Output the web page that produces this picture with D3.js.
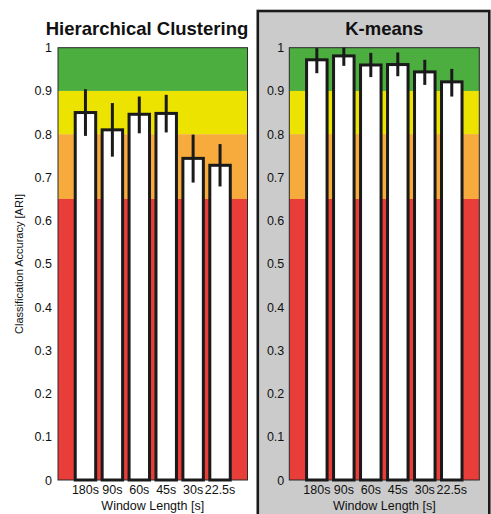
<!DOCTYPE html>
<html><head><meta charset="utf-8">
<script src="https://cdn.jsdelivr.net/npm/d3@7"></script>
<style>body{margin:0;background:#fff}svg{display:block}text{font-family:"Liberation Sans",Arial,sans-serif;fill:#111}</style>
</head><body><svg id="c" width="491" height="514"></svg>
<script>
const categories = ["180s","90s","60s","45s","30s","22.5s"];
const hierValues = [0.850, 0.810, 0.846, 0.848, 0.744, 0.728];
const hierLow    = [0.796, 0.748, 0.802, 0.804, 0.688, 0.679];
const hierHigh   = [0.904, 0.872, 0.887, 0.891, 0.799, 0.777];
const kmValues   = [0.972, 0.981, 0.960, 0.961, 0.944, 0.921];
const kmLow      = [0.941, 0.958, 0.932, 0.934, 0.914, 0.887];
const kmHigh     = [0.999, 1.000, 0.988, 0.989, 0.972, 0.951];
const bandEdges  = [0, 0.65, 0.8, 0.9, 1.0];
const bandColors = ["#e83d39","#f7ab3c","#ede300","#4cae3f"];
const yTicks     = [0,0.1,0.2,0.3,0.4,0.5,0.6,0.7,0.8,0.9,1];
const titles     = ["Hierarchical Clustering","K-means"];
const xLabel = "Window Length [s]";
const yLabel = "Classification Accuracy [ARI]";

const svg = d3.select("#c");
// gray highlight panel for K-means
svg.append("rect").attr("x",257.8).attr("y",11).attr("width",231.5).attr("height",520)
  .attr("fill","#cbcbcb").attr("stroke","#1a1a1a").attr("stroke-width",2.6);

const y = d3.scaleLinear().domain([0,1]).range([480,47.7]);

function panel(x0,x1,vals,lo,hi,title,titleX,tickGap){
  const g = svg.append("g");
  const x = d3.scaleBand().domain(categories).range([x0,x1]).paddingInner(0.24).paddingOuter(0.64);
  g.selectAll("rect.band").data(bandColors).join("rect").attr("class","band")
    .attr("x",x0).attr("width",x1-x0)
    .attr("y",(d,i)=>y(bandEdges[i+1])).attr("height",(d,i)=>y(bandEdges[i])-y(bandEdges[i+1]))
    .attr("fill",d=>d);
  g.append("rect").attr("x",x0).attr("y",y(1)).attr("width",x1-x0).attr("height",y(0)-y(1))
    .attr("fill","none").attr("stroke","#2a2a2a").attr("stroke-width",1);
  g.selectAll("rect.bar").data(vals).join("rect").attr("class","bar")
    .attr("x",(d,i)=>x(categories[i])).attr("width",x.bandwidth())
    .attr("y",d=>y(d)).attr("height",d=>y(0)-y(d))
    .attr("fill","#fff").attr("stroke","#1a1a1a").attr("stroke-width",3);
  g.selectAll("line.err").data(vals).join("line").attr("class","err")
    .attr("x1",(d,i)=>x(categories[i])+x.bandwidth()/2).attr("x2",(d,i)=>x(categories[i])+x.bandwidth()/2)
    .attr("y1",(d,i)=>y(lo[i])).attr("y2",(d,i)=>y(hi[i]))
    .attr("stroke","#1a1a1a").attr("stroke-width",3);
  const ya = d3.axisLeft(y).tickValues(yTicks).tickFormat(d=>d===0?"0":d===1?"1":d3.format(".1f")(d)).tickSize(0).tickPadding(tickGap);
  const yg = g.append("g").attr("transform",`translate(${x0},0)`).call(ya);
  yg.select(".domain").remove();
  yg.selectAll("text").style("font-size","12.5px").style("font-family","'Liberation Sans',Arial,sans-serif").attr("fill","#111");
  const xa = d3.axisBottom(x).tickSize(0).tickPadding(5);
  const xg = g.append("g").attr("transform",`translate(0,${y(0)})`).call(xa);
  xg.select(".domain").remove();
  xg.selectAll("text").style("font-size","12.5px").style("font-family","'Liberation Sans',Arial,sans-serif").attr("fill","#111");
  g.append("text").attr("x",(x0+x1)/2).attr("y",510).attr("text-anchor","middle").style("font-size","12.5px").text(xLabel);
  g.append("text").attr("x",titleX).attr("y",35).attr("text-anchor","middle").style("font-size","18.5px").style("font-weight","bold").text(title);
}
panel(58,247.5,hierValues,hierLow,hierHigh,titles[0],147,6);
panel(289.3,479.3,kmValues,kmLow,kmHigh,titles[1],384.3,5);

svg.append("text").attr("transform",`translate(23,264) rotate(-90)`).attr("text-anchor","middle")
  .style("font-size","11px").text(yLabel);
</script></body></html>
